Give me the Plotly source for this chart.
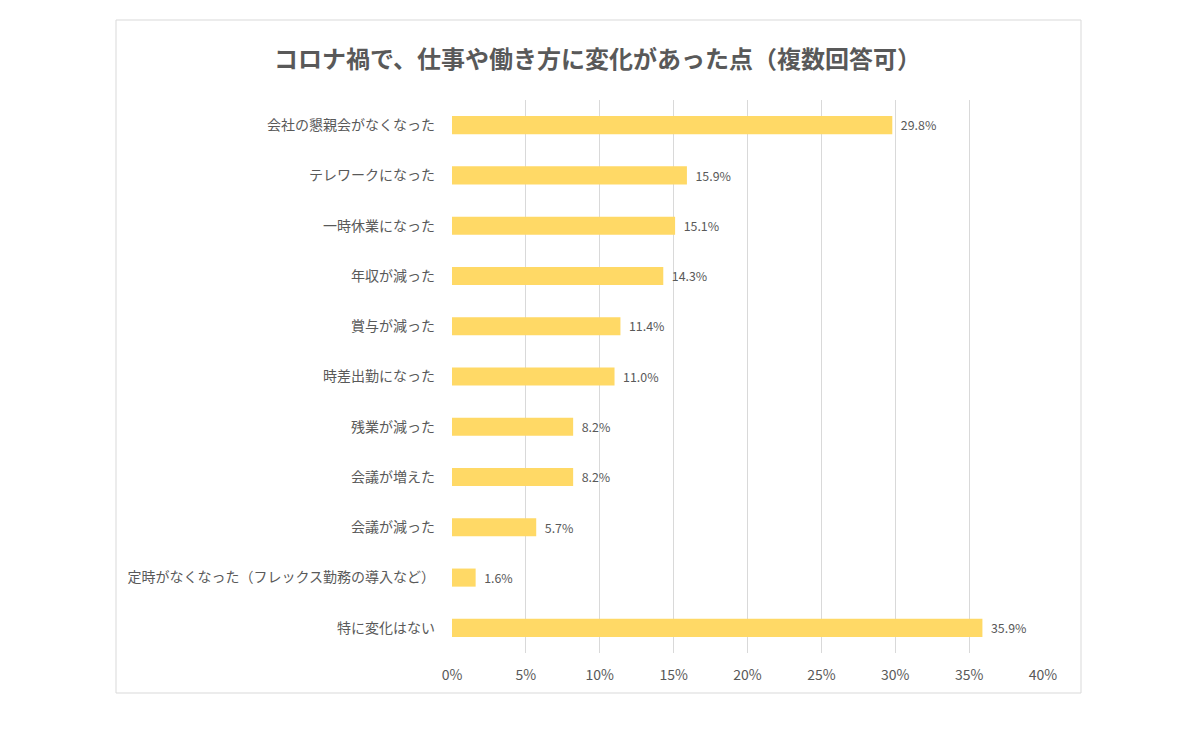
import plotly.graph_objects as go

categories = [
    "会社の懇親会がなくなった",
    "テレワークになった",
    "一時休業になった",
    "年収が減った",
    "賞与が減った",
    "時差出勤になった",
    "残業が減った",
    "会議が増えた",
    "会議が減った",
    "定時がなくなった（フレックス勤務の導入など）",
    "特に変化はない",
]
values = [29.8, 15.9, 15.1, 14.3, 11.4, 11.0, 8.2, 8.2, 5.7, 1.6, 35.9]
tick_vals = [0, 5, 10, 15, 20, 25, 30, 35, 40]
tick_text = ["0%", "5%", "10%", "15%", "20%", "25%", "30%", "35%", "40%"]
title_text = "コロナ禍で、仕事や働き方に変化があった点（複数回答可）"

FONT = "Noto Sans CJK JP"
GRAY = "#595959"

fig = go.Figure(
    go.Bar(
        x=values,
        y=categories,
        orientation="h",
        marker=dict(color="#FFD966", line=dict(width=0)),
        texttemplate="  %{x:.1f}%",
        textposition="outside",
        textfont=dict(family=FONT, size=13, color=GRAY),
        cliponaxis=False,
        hoverinfo="skip",
    )
)

# page body has 8px offset; compensate
OFF = 8
W, H = 1200, 733
L, R, T, B = 452 - OFF, 1043 - OFF, 100 - OFF, 653 - OFF
pw, ph = R - L, B - T

def px_x(x):
    return (x - OFF - L) / pw

def px_y(y):
    return (B - (y - OFF)) / ph

fig.add_shape(
    type="rect", xref="paper", yref="paper",
    x0=px_x(116), x1=px_x(1081), y0=px_y(693), y1=px_y(20),
    line=dict(color="#d9d9d9", width=1), fillcolor="rgba(0,0,0,0)", layer="below",
)

fig.add_annotation(
    text="<b>" + title_text + "</b>", xref="paper", yref="paper",
    x=px_x(597), y=px_y(57), xanchor="center", yanchor="middle",
    showarrow=False, font=dict(family=FONT, size=24, color=GRAY),
)

fig.update_layout(
    width=W, height=H,
    margin=dict(l=L, r=W - R, t=T, b=H - B, pad=0),
    paper_bgcolor="white", plot_bgcolor="white",
    bargap=0.64,
    showlegend=False,
    font=dict(family=FONT, color=GRAY),
    xaxis=dict(
        range=[0, 40], tickvals=tick_vals, ticktext=tick_text,
        showgrid=True, gridcolor="#d9d9d9", gridwidth=1,
        zeroline=False, showline=False, ticks="",
        tickfont=dict(family=FONT, size=14, color=GRAY),
        ticklabelstandoff=12, fixedrange=True,
    ),
    yaxis=dict(
        autorange="reversed", showgrid=False, zeroline=False, showline=False,
        ticks="", tickfont=dict(family=FONT, size=14, color=GRAY),
        ticklabelstandoff=16, fixedrange=True,
    ),
)

fig.write_html("out.html")
